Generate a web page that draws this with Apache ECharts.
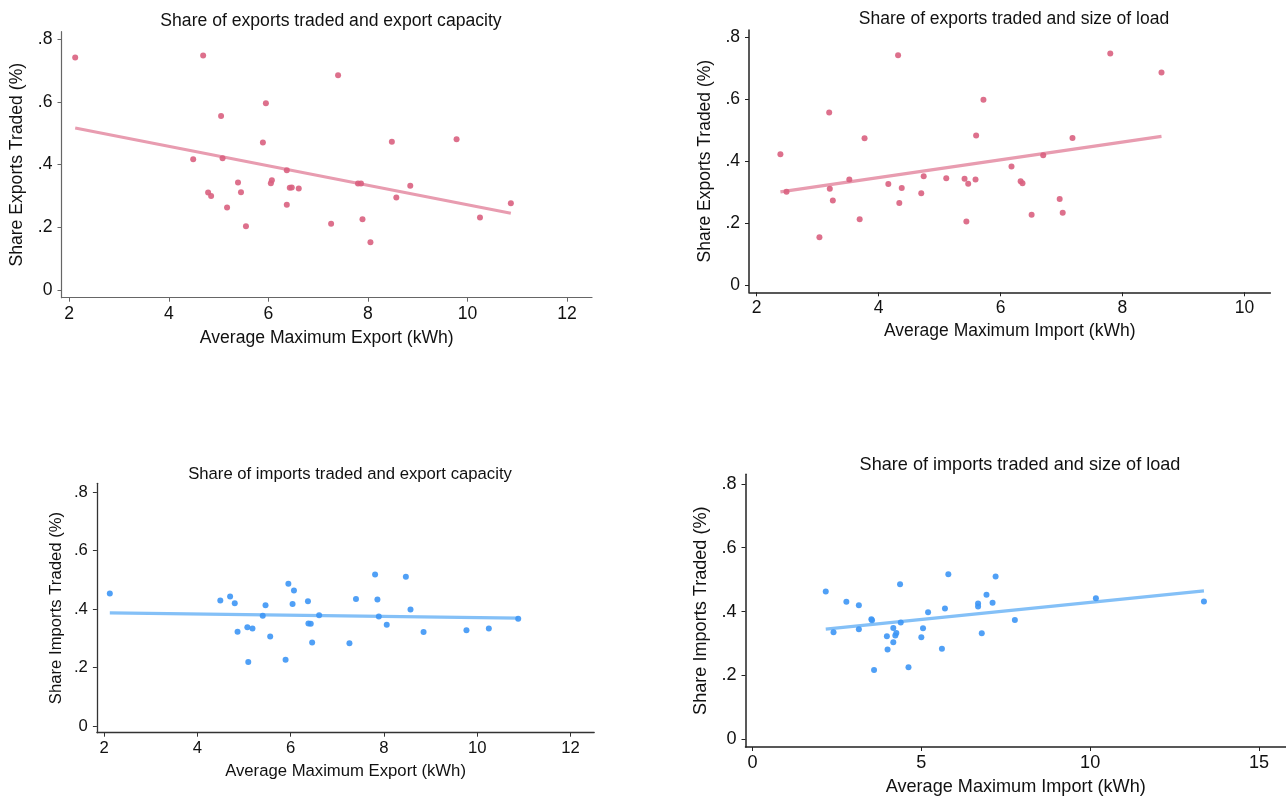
<!DOCTYPE html>
<html>
<head>
<meta charset="utf-8">
<script src="https://cdn.jsdelivr.net/npm/echarts@6/dist/echarts.min.js"></script>
<style>
html,body{margin:0;padding:0;background:#fff;}
#c{width:1286px;height:800px;}
</style>
</head>
<body>
<div id="c"></div>
<script>
// ---- Data ----
// Panel 1: share of exports traded vs average maximum export
const p1X = [2.12,4.69,7.40,5.95,5.05,5.89,8.48,9.78,4.49,5.08,6.37,5.39,6.05,6.07,6.43,6.47,6.61,7.80,7.86,8.85,4.79,5.45,4.85,8.57,10.87,5.17,6.37,5.55,7.26,7.89,10.25,8.05];
const p1Y = [0.742,0.748,0.685,0.596,0.555,0.471,0.473,0.481,0.417,0.420,0.382,0.343,0.341,0.350,0.326,0.327,0.324,0.340,0.340,0.333,0.311,0.312,0.300,0.295,0.277,0.263,0.272,0.203,0.211,0.226,0.231,0.152];
const p1FitX = [2.12, 10.87];
const p1FitY = [0.517, 0.245];

// Panel 2: share of exports traded vs average maximum import
const p2X = [2.39,2.49,3.03,3.19,3.20,3.25,3.52,3.69,3.77,4.16,4.32,4.34,4.38,4.70,4.74,5.11,5.41,5.44,5.47,5.59,5.60,5.72,6.18,6.33,6.36,6.51,6.70,6.97,7.02,7.18,7.80,8.64];
const p2Y = [0.422,0.301,0.154,0.557,0.311,0.273,0.341,0.212,0.474,0.326,0.742,0.265,0.313,0.296,0.351,0.345,0.343,0.205,0.327,0.341,0.483,0.598,0.383,0.335,0.329,0.227,0.419,0.278,0.233,0.475,0.748,0.686];
const p2FitX = [2.39, 8.64];
const p2FitY = [0.301, 0.480];

// Panel 3: share of imports traded vs average maximum export
const p3X = [2.12,4.49,4.70,4.80,4.86,5.07,5.18,5.09,5.40,5.46,5.56,5.95,6.07,6.04,5.89,6.37,6.38,6.43,6.46,6.61,7.26,7.40,7.81,7.86,7.89,8.06,8.47,8.57,8.85,9.77,10.25,10.88];
const p3Y = [0.454,0.430,0.443,0.420,0.323,0.338,0.334,0.219,0.377,0.413,0.306,0.487,0.464,0.418,0.227,0.427,0.351,0.350,0.286,0.379,0.283,0.435,0.519,0.433,0.375,0.347,0.511,0.399,0.322,0.328,0.334,0.367];
const p3FitX = [2.12, 10.88];
const p3FitY = [0.387, 0.369];

// Panel 4: share of imports traded vs average maximum import
const p4X = [2.17,2.40,2.78,3.15,3.15,3.52,3.54,3.60,3.98,4.00,4.17,4.17,4.23,4.26,4.37,4.39,4.62,5.00,5.05,5.20,5.61,5.70,5.80,6.68,6.68,6.79,6.93,7.11,7.20,7.77,10.17,13.37];
const p4Y = [0.463,0.335,0.431,0.420,0.345,0.376,0.373,0.217,0.323,0.281,0.349,0.304,0.325,0.333,0.486,0.366,0.226,0.320,0.348,0.398,0.284,0.410,0.517,0.425,0.416,0.332,0.453,0.428,0.510,0.374,0.442,0.432];
const p4FitX = [2.17, 13.37];
const p4FitY = [0.345, 0.465];

// Tick labels
const yTicks = [0, 0.2, 0.4, 0.6, 0.8];
const xTicksExport = [2, 4, 6, 8, 10, 12];
const xTicksImportTop = [2, 4, 6, 8, 10];
const xTicksImportBottom = [0, 5, 10, 15];

const titles = [
  'Share of exports traded and export capacity',
  'Share of exports traded and size of load',
  'Share of imports traded and export capacity',
  'Share of imports traded and size of load'
];
const xNames = ['Average Maximum Export (kWh)','Average Maximum Import (kWh)','Average Maximum Export (kWh)','Average Maximum Import (kWh)'];
const yNames = ['Share Exports Traded (%)','Share Exports Traded (%)','Share Imports Traded (%)','Share Imports Traded (%)'];

// ---- Layout ----
const panels = [
  {x:p1X, y:p1Y, fx:p1FitX, fy:p1FitY, xt:xTicksExport,
   left:61.5, top:31.7, right:592, bottom:297.7, xmin:1.845, xmax:12.5, ymin:-0.0246, ymax:0.8242,
   fs:17.6, axisColor:'#666', axisW:1.2, titleY:7, xGap:31, yGap:35, mark:'#d9607f', line:'#e89cb0', titleX:326},
  {x:p2X, y:p2Y, fx:p2FitX, fy:p2FitY, xt:xTicksImportTop,
   left:749, top:30, right:1270.4, bottom:292.3, xmin:1.875, xmax:10.426, ymin:-0.0236, ymax:0.8236,
   fs:17.5, axisColor:'#222', axisW:1.5, titleY:5, xGap:30, yGap:35, mark:'#d9607f', line:'#e89cb0', titleX:1009},
  {x:p3X, y:p3Y, fx:p3FitX, fy:p3FitY, xt:xTicksExport,
   left:96.9, top:483.3, right:594.2, bottom:732.7, xmin:1.843, xmax:12.51, ymin:-0.0229, ymax:0.8308,
   fs:16.7, axisColor:'#333', axisW:1.3, titleY:461, xGap:30, yGap:32, mark:'#3d96f5', line:'#84c0f7', titleX:345},
  {x:p4X, y:p4Y, fx:p4FitX, fy:p4FitY, xt:xTicksImportBottom,
   left:745.5, top:474.3, right:1286, bottom:747, xmin:-0.207, xmax:15.8, ymin:-0.024, ymax:0.830,
   fs:18.1, axisColor:'#222', axisW:1.5, titleY:451, xGap:31, yGap:36, mark:'#3d96f5', line:'#84c0f7', titleX:1015}
];

const FONT = '"Liberation Sans", Arial, Helvetica, sans-serif';
const fmtY = v => (v === 0 ? '0' : String(+v.toFixed(2)).replace(/^0/, ''));

const option = {
  animation: false,
  backgroundColor: '#fff',
  title: [], grid: [], xAxis: [], yAxis: [], series: []
};

panels.forEach((p, i) => {
  option.title.push({
    text: titles[i], left: p.titleX, top: p.titleY, textAlign: 'center',
    textStyle: {fontFamily: FONT, fontSize: p.fs, fontWeight: 'normal', color: '#111'}
  });
  option.grid.push({
    left: p.left, top: p.top, width: p.right - p.left, height: p.bottom - p.top, containLabel: false
  });
  const axisLine = {show: true, onZero: false, lineStyle: {color: p.axisColor, width: p.axisW}};
  const tick = {show: true, inside: false, length: 4, lineStyle: {color: p.axisColor, width: 1}};
  option.xAxis.push({
    type: 'value', gridIndex: i, min: p.xmin, max: p.xmax,
    axisLine: axisLine,
    axisTick: Object.assign({}, tick, {customValues: p.xt}),
    axisLabel: {customValues: p.xt, margin: 7, fontFamily: FONT, fontSize: p.fs, color: '#111',
      formatter: v => String(Math.round(v))},
    splitLine: {show: false},
    name: xNames[i], nameLocation: 'middle', nameGap: p.xGap,
    nameTextStyle: {fontFamily: FONT, fontSize: p.fs, color: '#111'}
  });
  option.yAxis.push({
    type: 'value', gridIndex: i, min: p.ymin, max: p.ymax,
    axisLine: axisLine,
    axisTick: Object.assign({}, tick, {customValues: yTicks}),
    axisLabel: {customValues: yTicks, margin: 9, fontFamily: FONT, fontSize: p.fs, color: '#111',
      formatter: fmtY},
    splitLine: {show: false},
    name: yNames[i], nameLocation: 'middle', nameGap: p.yGap, nameRotate: 90,
    nameTextStyle: {fontFamily: FONT, fontSize: p.fs, color: '#111'}
  });
  option.series.push({
    type: 'line', xAxisIndex: i, yAxisIndex: i,
    data: p.fx.map((v, k) => [v, p.fy[k]]),
    showSymbol: false, symbol: 'none',
    lineStyle: {color: p.line, width: 3.2}, z: 2, silent: true
  });
  option.series.push({
    type: 'scatter', xAxisIndex: i, yAxisIndex: i,
    data: p.x.map((v, k) => [v, p.y[k]]),
    symbol: 'circle', symbolSize: 6,
    itemStyle: {color: p.mark, opacity: 0.9}, z: 3, silent: true
  });
});

const chart = echarts.init(document.getElementById('c'), null, {renderer: 'canvas'});
chart.setOption(option);
</script>
</body>
</html>
